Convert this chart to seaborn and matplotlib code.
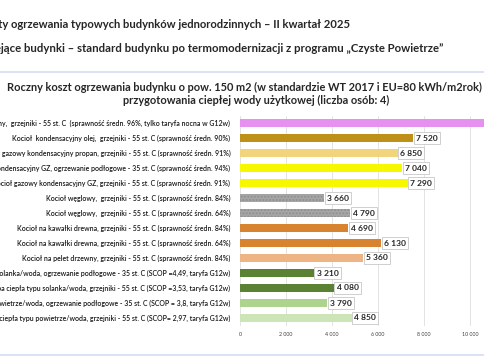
"""
Koszty ogrzewania typowych budynków jednorodzinnych - wykres słupkowy
"""

import pandas as pd
import numpy as np
import matplotlib.pyplot as plt
import seaborn as sns

# dane
labels = [
    'Kocioł elektryczny,  grzejniki - 55 st. C  (sprawność średn. 96%, tylko taryfa nocna w G12w)',
    'Kocioł  kondensacyjny olej,  grzejniki - 55 st. C (sprawność średn. 90%)',
    'Kocioł gazowy kondensacyjny propan, grzejniki - 55 st. C (sprawność średn. 91%)',
    'Kocioł gazowy kondensacyjny GZ, ogrzewanie podłogowe - 35 st. C (sprawność średn. 94%)',
    'Kocioł gazowy kondensacyjny GZ, grzejniki - 55 st. C (sprawność średn. 91%)',
    'Kocioł węglowy,  grzejniki - 55 st. C (sprawność średn. 84%)',
    'Kocioł węglowy,  grzejniki - 55 st. C (sprawność średn. 64%)',
    'Kocioł na kawałki drewna, grzejniki - 55 st. C (sprawność średn. 84%)',
    'Kocioł na kawałki drewna, grzejniki - 55 st. C (sprawność średn. 64%)',
    'Kocioł na pelet drzewny, grzejniki - 55 st. C (sprawność średn. 84%)',
    'Pompa ciepła typu solanka/woda, ogrzewanie podłogowe - 35 st. C (SCOP =4,49, taryfa G12w)',
    'Pompa ciepła typu solanka/woda, grzejniki - 55 st. C (SCOP =3,53, taryfa G12w)',
    'Pompa ciepła typu powietrze/woda, ogrzewanie podłogowe - 35 st. C (SCOP = 3,8, taryfa G12w)',
    'Pompa ciepła typu powietrze/woda, grzejniki - 55 st. C (SCOP= 2,97, taryfa G12w)',
]
values = [11300, 7520, 6850, 7040, 7290, 3660, 4790, 4690, 6130, 5360, 3210, 4080, 3790, 4850]
colors = ['#e690f0', '#bf9018', '#f2d47c', '#f7f700', '#f7f700', '#a6a6a6', '#a6a6a6',
          '#d8832f', '#d8832f', '#efb483', '#5a8232', '#5a8232', '#add38e', '#cde3b8']
tick_values = [0, 2000, 4000, 6000, 8000, 10000]
tick_labels = ['0', '2 000', '4 000', '6 000', '8 000', '10 000']

title1 = 'Koszty ogrzewania typowych budynków jednorodzinnych – II kwartał 2025'
title2 = 'Istniejące budynki – standard budynku po termomodernizacji z programu „Czyste Powietrze”'
chart_title = ('Roczny koszt ogrzewania budynku o pow. 150 m2 (w standardzie WT 2017 i EU=80 kWh/m2rok) oraz\n'
               'przygotowania ciepłej wody użytkowej (liczba osób: 4)')

sns.set_style('white')
plt.rcParams['font.family'] = ['Lato', 'DejaVu Sans']

fig = plt.figure(figsize=(4.85, 3.6), dpi=100)
W, H = 485, 360

# osie: 0 przy x=240 px, 12000 przy x=516 px
ax = fig.add_axes([240 / W, 1 - 325.5 / H, 276 / W, 210 / H])

df = pd.DataFrame({'label': labels, 'value': values})
sns.barplot(data=df, x='value', y='label', hue='label', palette=colors,
            legend=False, orient='h', width=0.5, ax=ax, saturation=1,
            edgecolor='none', zorder=3)

# wzór kropek na słupkach węglowych
for i, p in enumerate(ax.patches):
    if i in (5, 6):
        p.set_hatch('.....')
        p.set_edgecolor('#8f8f8f')
        p.set_linewidth(0)

ax.set_xlim(0, 12000)
ax.set_ylim(13.5, -0.5)
ax.set_xticks(tick_values)
ax.set_xticklabels(tick_labels, fontsize=3.8, color='#404040')
ax.tick_params(axis='x', length=0, pad=5)
ax.tick_params(axis='y', length=0, pad=7)
for t in ax.get_yticklabels():
    t.set_fontsize(5.0)
    t.set_color('#1a1a1a')
    t.set_fontweight('semibold')
ax.set_xlabel('')
ax.set_ylabel('')
ax.grid(True, axis='x', color='#e3e3e3', linewidth=0.7, zorder=0)
for s in ax.spines.values():
    s.set_visible(False)

# etykiety wartości
for i, v in enumerate(values):
    ax.text(v + 120, i, f'{v:,}'.replace(',', ' '), va='center', ha='left',
            fontsize=6.1, fontweight='bold', color='#262626', zorder=4,
            bbox=dict(boxstyle='square,pad=0.25', facecolor='white',
                      edgecolor='#c8c8c8', linewidth=0.6))

# tytuły
fig.text(350 / W, 1 - 24 / H, title1, ha='right', va='center',
         fontsize=8.15, fontweight='bold', color='#262626')
fig.text(443 / W, 1 - 49 / H, title2, ha='right', va='center',
         fontsize=8.2, fontweight='bold', color='#262626')
fig.text(256 / W, 1 - 94 / H, chart_title, ha='center', va='center',
         fontsize=7.9, fontweight='bold', color='#262626', linespacing=1.25)

# niebieskie linie ramki
fig.add_artist(plt.Line2D([0, 1], [1 - 72 / H, 1 - 72 / H], color='#d3def2', linewidth=1.2))
fig.add_artist(plt.Line2D([0, 1], [1 - 355 / H, 1 - 355 / H], color='#d3def2', linewidth=1.2))

plt.savefig('out.png', dpi=100)
plt.close()
